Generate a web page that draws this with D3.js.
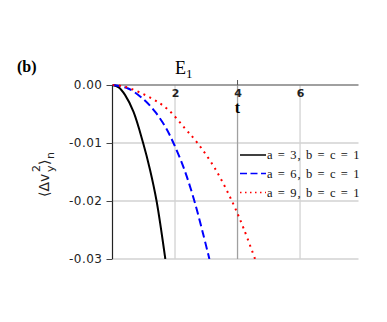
<!DOCTYPE html>
<html>
<head>
<meta charset="utf-8">
<script src="https://cdn.jsdelivr.net/npm/d3@7"></script>
<style>
  body { margin: 0; background: #fff; }
  svg { display: block; }
</style>
</head>
<body>
<div id="chart"></div>
<script>
// values
var tTicks = [2, 4, 6];
var yTicks = [0, -0.01, -0.02, -0.03];

var labels = ["a = 3, b = c = 1", "a = 6, b = c = 1", "a = 9, b = c = 1"];

var tA3 = [0, 0.2, 0.4, 0.67, 0.98, 1.2, 1.41, 1.69];
var vA3 = [0, -0.0004, -0.0017, -0.0046, -0.01, -0.0146, -0.02, -0.03];

var tA6 = [0, 0.5, 1.0, 1.36, 1.7, 1.95, 2.3, 2.62, 2.9, 3.1];
var vA6 = [0, -0.0006, -0.0025, -0.0046, -0.0073, -0.01, -0.0146, -0.02, -0.0257, -0.03];

var tA9 = [0, 0.4, 1.25, 1.79, 2.32, 2.69, 3.28, 3.82, 4.2, 4.56];
var vA9 = [0, -0.0003, -0.0023, -0.0043, -0.0075, -0.0098, -0.0144, -0.02, -0.0248, -0.03];

var W = 387, H = 322;

var svg = d3.select("#chart").append("svg")
    .attr("width", W)
    .attr("height", H);

var x = d3.scaleLinear().domain([0, 7.87]).range([112.5, 358.5]);
var y = d3.scaleLinear().domain([0, -0.03]).range([85, 259]);

var serif = "'Liberation Serif', 'Times New Roman', serif";
var sans = "'DejaVu Sans', sans-serif";

// grid
svg.append("g").selectAll("line")
    .data(yTicks.slice(1))
    .enter().append("line")
    .attr("x1", x(0)).attr("x2", x.range()[1])
    .attr("y1", function(d) { return y(d); })
    .attr("y2", function(d) { return y(d); })
    .attr("stroke", "#d2d2d2")
    .attr("stroke-width", 1.3);

svg.append("g").selectAll("line")
    .data(tTicks)
    .enter().append("line")
    .attr("x1", function(d) { return x(d); })
    .attr("x2", function(d) { return x(d); })
    .attr("y1", y(0)).attr("y2", y(-0.03))
    .attr("stroke", function(d) { return d == 4 ? "#a0a0a0" : "#d2d2d2"; })
    .attr("stroke-width", 1.3);

// axes
svg.append("line")
    .attr("x1", x(0)).attr("x2", x.range()[1])
    .attr("y1", y(0)).attr("y2", y(0))
    .attr("stroke", "#808080")
    .attr("stroke-width", 1.5);

svg.append("line")
    .attr("x1", x(0)).attr("x2", x(0))
    .attr("y1", y(0)).attr("y2", y(-0.03))
    .attr("stroke", "#222")
    .attr("stroke-width", 1.2);

var yAxis = d3.axisLeft(y)
    .tickValues(yTicks)
    .tickSize(6)
    .tickPadding(4)
    .tickFormat(function(d) { return d3.format(".2f")(d).replace("\u2212", "-"); });

var gy = svg.append("g")
    .attr("transform", "translate(" + x(0) + ",0)")
    .call(yAxis);
gy.select(".domain").remove();
gy.selectAll(".tick line").attr("stroke", "#444");
gy.selectAll(".tick text")
    .style("font-family", sans)
    .style("font-size", "12px")
    .style("letter-spacing", "0.5px")
    .attr("fill", "#222");

var xAxis = d3.axisBottom(x)
    .tickValues(tTicks)
    .tickSize(0)
    .tickPadding(4);

var gx = svg.append("g")
    .attr("transform", "translate(0," + y(0) + ")")
    .call(xAxis);
gx.select(".domain").remove();
gx.selectAll(".tick text")
    .style("font-family", sans)
    .style("font-size", "11px")
    .style("font-weight", "bold")
    .attr("fill", "#222");

svg.append("line")
    .attr("x1", x(4)).attr("x2", x(4))
    .attr("y1", y(0) - 5).attr("y2", y(0))
    .attr("stroke", "#555");

svg.append("text")
    .attr("x", x(4)).attr("y", 113)
    .attr("text-anchor", "middle")
    .style("font-family", serif)
    .style("font-size", "16px")
    .style("font-weight", "bold")
    .text("t");

// title and panel letter
var title = svg.append("text")
    .attr("x", 175).attr("y", 74)
    .style("font-family", serif)
    .style("font-size", "18px")
    .text("E");
title.append("tspan")
    .attr("dy", 4)
    .style("font-size", "13px")
    .text("1");

svg.append("text")
    .attr("x", 17).attr("y", 72)
    .style("font-family", serif)
    .style("font-size", "16px")
    .style("font-weight", "bold")
    .text("(b)");

// y label, rotated
var yl = svg.append("g")
    .attr("transform", "translate(49,171) rotate(-90)")
    .style("font-family", sans)
    .attr("fill", "#222");
yl.append("text").attr("x", -26).attr("y", 0).style("font-size", "14px").text("\u27e8\u0394v");
yl.append("text").attr("x", -1).attr("y", -9).style("font-size", "11px").text("2");
yl.append("text").attr("x", -1).attr("y", 5).style("font-size", "11px").text("y");
yl.append("text").attr("x", 6).attr("y", 0).style("font-size", "14px").text("\u27e9");
yl.append("text").attr("x", 12).attr("y", 5).style("font-size", "11px").text("n");

// curves
svg.append("clipPath").attr("id", "plotclip")
    .append("rect")
    .attr("x", x(0)).attr("y", y(0) - 2)
    .attr("width", x.range()[1] - x(0))
    .attr("height", y(-0.03) - y(0) + 2);

var series = [
    {t: tA3, v: vA3, color: "#000", dash: null},
    {t: tA6, v: vA6, color: "#0000ff", dash: "8,4"},
    {t: tA9, v: vA9, color: "#ff0000", dash: "2,4.5"}
];

var line = d3.line()
    .x(function(d) { return x(d[0]); })
    .y(function(d) { return y(d[1]); })
    .curve(d3.curveCatmullRom);

svg.append("g")
    .attr("clip-path", "url(#plotclip)")
    .selectAll("path")
    .data(series)
    .enter().append("path")
    .attr("d", function(s) { return line(d3.zip(s.t, s.v)); })
    .attr("fill", "none")
    .attr("stroke", function(s) { return s.color; })
    .attr("stroke-width", 2)
    .attr("stroke-dasharray", function(s) { return s.dash; });

// legend
var legend = svg.append("g")
    .selectAll("g")
    .data(series)
    .enter().append("g")
    .attr("transform", function(d, i) { return "translate(240," + [155, 173.5, 192.5][i] + ")"; });

legend.append("line")
    .attr("x1", 0).attr("x2", 26)
    .attr("stroke", function(s) { return s.color; })
    .attr("stroke-width", 1.5)
    .attr("stroke-dasharray", function(s, i) { return i == 1 ? "7,3.5" : (i == 2 ? "1.5,3.5" : null); });

legend.append("text")
    .attr("x", 27).attr("y", 4)
    .style("font-family", serif)
    .style("font-size", "12.5px")
    .style("letter-spacing", "1.1px")
    .attr("fill", "#111")
    .text(function(d, i) { return labels[i]; });
</script>
</body>
</html>
